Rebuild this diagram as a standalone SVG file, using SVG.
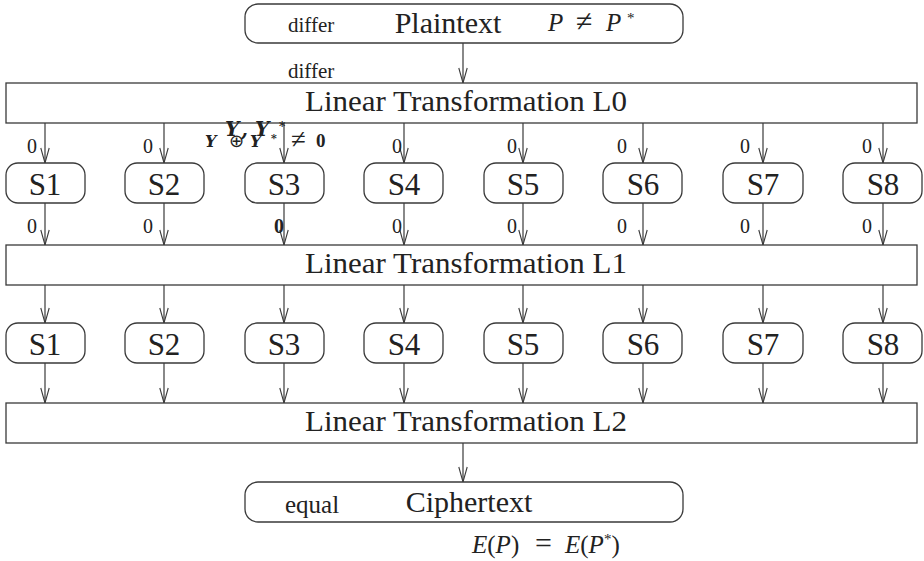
<svg xmlns="http://www.w3.org/2000/svg" width="924" height="561" viewBox="0 0 924 561">
<style>
.box{fill:#fff;stroke:#3a3a3a;stroke-width:1.3}
.con{stroke:#3a3a3a;stroke-width:1.2;fill:none;marker-end:url(#v)}
.t{font-family:"Liberation Serif","Times New Roman",serif;fill:#222}
.big{font-size:30px;text-anchor:middle}
.s{font-size:31px;text-anchor:middle}
.z{font-size:20px}
.m{font-family:"Liberation Serif",serif;font-style:italic;fill:#222}
.r{font-style:normal}
.bm{font-family:"DejaVu Serif","Liberation Serif",serif;font-style:italic;font-weight:bold;fill:#222}
</style>
<defs>
<marker id="v" markerUnits="userSpaceOnUse" markerWidth="20" markerHeight="12" viewBox="-16 -6 17 12" refX="0" refY="0" orient="auto">
<path d="M-15,-4.2 L0,0 L-15,4.2" fill="none" stroke="#3a3a3a" stroke-width="1.1"/>
</marker>
</defs>
<g id="connectors">
<line class="con" x1="463" y1="43" x2="463" y2="83"/>
<line class="con" x1="45" y1="123" x2="45" y2="163"/>
<line class="con" x1="164" y1="123" x2="164" y2="163"/>
<line class="con" x1="284" y1="123" x2="284" y2="163"/>
<line class="con" x1="404" y1="123" x2="404" y2="163"/>
<line class="con" x1="523" y1="123" x2="523" y2="163"/>
<line class="con" x1="643" y1="123" x2="643" y2="163"/>
<line class="con" x1="763" y1="123" x2="763" y2="163"/>
<line class="con" x1="883" y1="123" x2="883" y2="163"/>
<line class="con" x1="45" y1="203" x2="45" y2="245"/>
<line class="con" x1="164" y1="203" x2="164" y2="245"/>
<line class="con" x1="284" y1="203" x2="284" y2="245"/>
<line class="con" x1="404" y1="203" x2="404" y2="245"/>
<line class="con" x1="523" y1="203" x2="523" y2="245"/>
<line class="con" x1="643" y1="203" x2="643" y2="245"/>
<line class="con" x1="763" y1="203" x2="763" y2="245"/>
<line class="con" x1="883" y1="203" x2="883" y2="245"/>
<line class="con" x1="45" y1="285" x2="45" y2="323"/>
<line class="con" x1="164" y1="285" x2="164" y2="323"/>
<line class="con" x1="284" y1="285" x2="284" y2="323"/>
<line class="con" x1="404" y1="285" x2="404" y2="323"/>
<line class="con" x1="523" y1="285" x2="523" y2="323"/>
<line class="con" x1="643" y1="285" x2="643" y2="323"/>
<line class="con" x1="763" y1="285" x2="763" y2="323"/>
<line class="con" x1="883" y1="285" x2="883" y2="323"/>
<line class="con" x1="45" y1="363" x2="45" y2="403"/>
<line class="con" x1="164" y1="363" x2="164" y2="403"/>
<line class="con" x1="284" y1="363" x2="284" y2="403"/>
<line class="con" x1="404" y1="363" x2="404" y2="403"/>
<line class="con" x1="523" y1="363" x2="523" y2="403"/>
<line class="con" x1="643" y1="363" x2="643" y2="403"/>
<line class="con" x1="763" y1="363" x2="763" y2="403"/>
<line class="con" x1="883" y1="363" x2="883" y2="403"/>
<line class="con" x1="463" y1="443" x2="463" y2="482"/>
</g>
<g id="plaintext">
<rect class="box" x="245" y="4" width="438" height="39" rx="13"/>
<text class="t" x="288" y="32" style="font-size:21px">differ</text>
<text class="t big" x="448" y="33">Plaintext</text>
<text class="m" y="31" style="font-size:25px"><tspan x="548">P</tspan><tspan x="576" class="r" style="font-size:30px">≠</tspan><tspan x="606">P</tspan><tspan x="627" y="23" class="r" style="font-size:15px">*</tspan></text>
</g>
<g id="L0">
<rect class="box" x="6" y="83" width="911" height="40"/>
<text class="t big" x="466" y="111" textLength="322" lengthAdjust="spacingAndGlyphs">Linear Transformation L0</text>
</g>
<g id="row1">
<g id="r1s1"><rect class="box" x="6" y="163" width="79" height="40" rx="12"/><text class="t s" x="45" y="195">S1</text></g>
<g id="r1s2"><rect class="box" x="125" y="163" width="79" height="40" rx="12"/><text class="t s" x="164" y="195">S2</text></g>
<g id="r1s3"><rect class="box" x="245" y="163" width="79" height="40" rx="12"/><text class="t s" x="284" y="195">S3</text></g>
<g id="r1s4"><rect class="box" x="364" y="163" width="79" height="40" rx="12"/><text class="t s" x="404" y="195">S4</text></g>
<g id="r1s5"><rect class="box" x="484" y="163" width="79" height="40" rx="12"/><text class="t s" x="523" y="195">S5</text></g>
<g id="r1s6"><rect class="box" x="603" y="163" width="79" height="40" rx="12"/><text class="t s" x="643" y="195">S6</text></g>
<g id="r1s7"><rect class="box" x="723" y="163" width="80" height="40" rx="12"/><text class="t s" x="763" y="195">S7</text></g>
<g id="r1s8"><rect class="box" x="843" y="163" width="79" height="40" rx="12"/><text class="t s" x="883" y="195">S8</text></g>
</g>
<g id="L1">
<rect class="box" x="6" y="245" width="911" height="40"/>
<text class="t big" x="466" y="273" textLength="322" lengthAdjust="spacingAndGlyphs">Linear Transformation L1</text>
</g>
<g id="row2">
<g id="r2s1"><rect class="box" x="6" y="323" width="79" height="40" rx="12"/><text class="t s" x="45" y="355">S1</text></g>
<g id="r2s2"><rect class="box" x="125" y="323" width="79" height="40" rx="12"/><text class="t s" x="164" y="355">S2</text></g>
<g id="r2s3"><rect class="box" x="245" y="323" width="79" height="40" rx="12"/><text class="t s" x="284" y="355">S3</text></g>
<g id="r2s4"><rect class="box" x="364" y="323" width="79" height="40" rx="12"/><text class="t s" x="404" y="355">S4</text></g>
<g id="r2s5"><rect class="box" x="484" y="323" width="79" height="40" rx="12"/><text class="t s" x="523" y="355">S5</text></g>
<g id="r2s6"><rect class="box" x="603" y="323" width="79" height="40" rx="12"/><text class="t s" x="643" y="355">S6</text></g>
<g id="r2s7"><rect class="box" x="723" y="323" width="80" height="40" rx="12"/><text class="t s" x="763" y="355">S7</text></g>
<g id="r2s8"><rect class="box" x="843" y="323" width="79" height="40" rx="12"/><text class="t s" x="883" y="355">S8</text></g>
</g>
<g id="L2">
<rect class="box" x="6" y="403" width="911" height="40"/>
<text class="t big" x="466" y="431" textLength="322" lengthAdjust="spacingAndGlyphs">Linear Transformation L2</text>
</g>
<g id="ciphertext">
<rect class="box" x="245" y="482" width="438" height="40" rx="13"/>
<text class="t" x="285" y="513" style="font-size:25px">equal</text>
<text class="t big" x="469" y="512">Ciphertext</text>
<text class="m" y="553" style="font-size:25px"><tspan x="472">E</tspan><tspan class="r">(</tspan>P<tspan class="r">)</tspan><tspan x="535" class="r" style="font-size:30px">=</tspan><tspan x="565">E</tspan><tspan class="r">(</tspan>P<tspan dy="-9" class="r" style="font-size:15px">*</tspan><tspan dy="9" class="r">)</tspan></text>
</g>
<g id="connector-labels">
<text class="t" x="288" y="78" style="font-size:21px">differ</text>
<text class="t z" x="27" y="153">0</text>
<text class="t z" x="143" y="153">0</text>
<text class="t z" x="392" y="153">0</text>
<text class="t z" x="507" y="153">0</text>
<text class="t z" x="617" y="153">0</text>
<text class="t z" x="740" y="153">0</text>
<text class="t z" x="862" y="153">0</text>
<text class="bm" y="136" style="font-size:20px"><tspan x="225">Y</tspan><tspan x="241">,</tspan><tspan x="255">Y</tspan><tspan x="279" y="131" style="font-size:12px">*</tspan></text>
<text class="bm" y="147" style="font-size:16px"><tspan x="205">Y</tspan><tspan x="250">Y</tspan><tspan x="271" y="142" style="font-size:11px">*</tspan></text>
<text class="t" x="229" y="147" style="font-size:18px">⊕</text>
<text class="t" x="291" y="148" style="font-size:27px">≠</text>
<text class="t" x="316" y="147" style="font-size:19px;font-weight:bold">0</text>
<text class="t z" x="27" y="233">0</text>
<text class="t z" x="143" y="233">0</text>
<text class="t z" x="274" y="233" style="font-weight:bold">0</text>
<text class="t z" x="392" y="233">0</text>
<text class="t z" x="507" y="233">0</text>
<text class="t z" x="617" y="233">0</text>
<text class="t z" x="740" y="233">0</text>
<text class="t z" x="862" y="233">0</text>
</g>
</svg>
